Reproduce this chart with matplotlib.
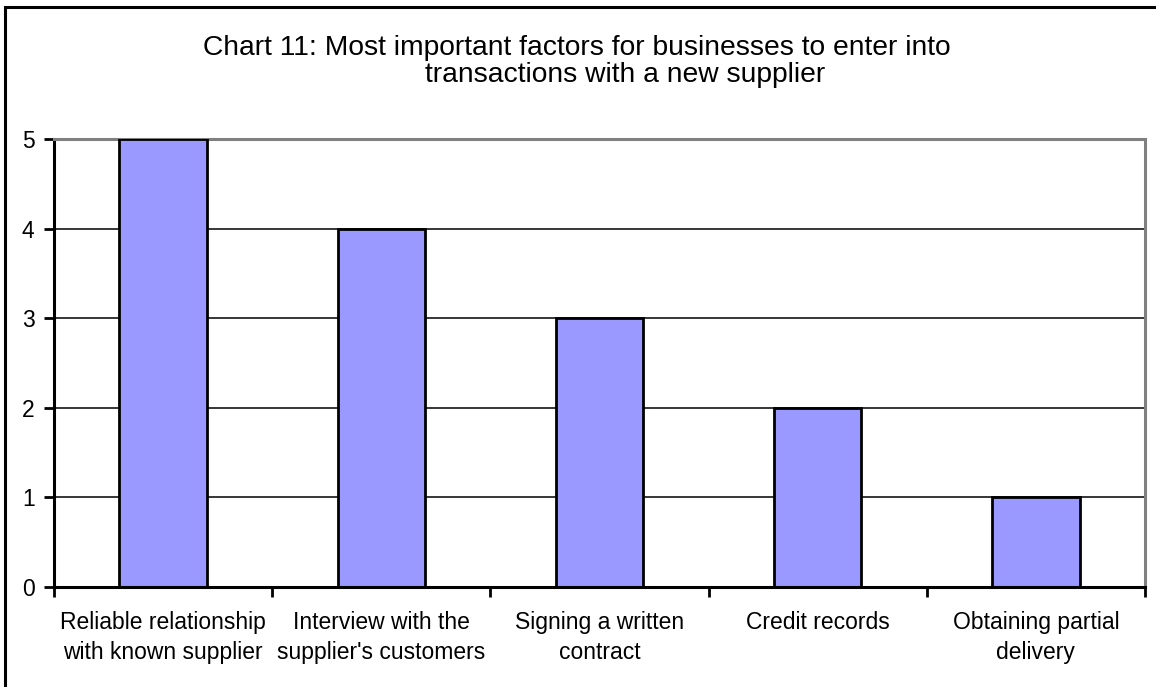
import matplotlib
matplotlib.use("Agg")
import matplotlib.pyplot as plt
from matplotlib.patches import Rectangle

categories = ["Reliable relationship\nwith known supplier",
              "Interview with the\nsupplier's customers",
              "Signing a written\ncontract",
              "Credit records",
              "Obtaining partial\ndelivery"]
values = [5, 4, 3, 2, 1]
yticks = [0, 1, 2, 3, 4, 5]
title_line1 = "Chart 11: Most important factors for businesses to enter into"
title_line2 = "transactions with a new supplier"

plt.rcParams['font.family'] = ['Liberation Sans', 'DejaVu Sans']

W, H = 1156, 687
fig = plt.figure(figsize=(W/100, H/100), dpi=100)
fig.patch.set_facecolor('white')

# outer chart border (left/top visible, right/bottom beyond image)
fig.add_artist(Rectangle((5/W, -0.05), 1.2, (H-7)/H + 0.05, transform=fig.transFigure,
                         fill=False, edgecolor='black', linewidth=2.2))

ax = fig.add_axes([54/W, (H-587)/H, 1091/W, 448/H])
x = list(range(len(categories)))
ax.bar(x, values, width=0.40, color='#9999FF', edgecolor='black', linewidth=2, zorder=3)
ax.set_xlim(-0.5, len(categories) - 0.5)
ax.set_ylim(0, 5)
ax.set_yticks(yticks)
ax.set_yticklabels([str(t) for t in yticks], fontsize=16.5)
for t in yticks[1:-1]:
    ax.axhline(t, color='black', linewidth=1.1, zorder=1)

ax.set_xticks([i - 0.5 for i in range(len(categories) + 1)])
ax.set_xticklabels([])
ax.set_xticks(x, minor=True)
ax.set_xticklabels(categories, minor=True, fontsize=16.5, linespacing=1.4)
ax.tick_params(axis='x', which='minor', length=0, pad=17)
ax.tick_params(axis='x', which='major', length=7, width=2, direction='out')
ax.tick_params(axis='y', length=7, width=2, direction='out', pad=7)

for s in ['top', 'right']:
    ax.spines[s].set_color('#808080')
    ax.spines[s].set_linewidth(2.2)
for s in ['left', 'bottom']:
    ax.spines[s].set_color('black')
    ax.spines[s].set_linewidth(2.2)
ax.spines['bottom'].set_zorder(5)

fig.text(577/W, 1 - 48/H, title_line1, ha='center', va='center', fontsize=20.3)
fig.text(625/W, 1 - 75/H, title_line2, ha='center', va='center', fontsize=20.3)

fig.savefig("out.png", dpi=100)
